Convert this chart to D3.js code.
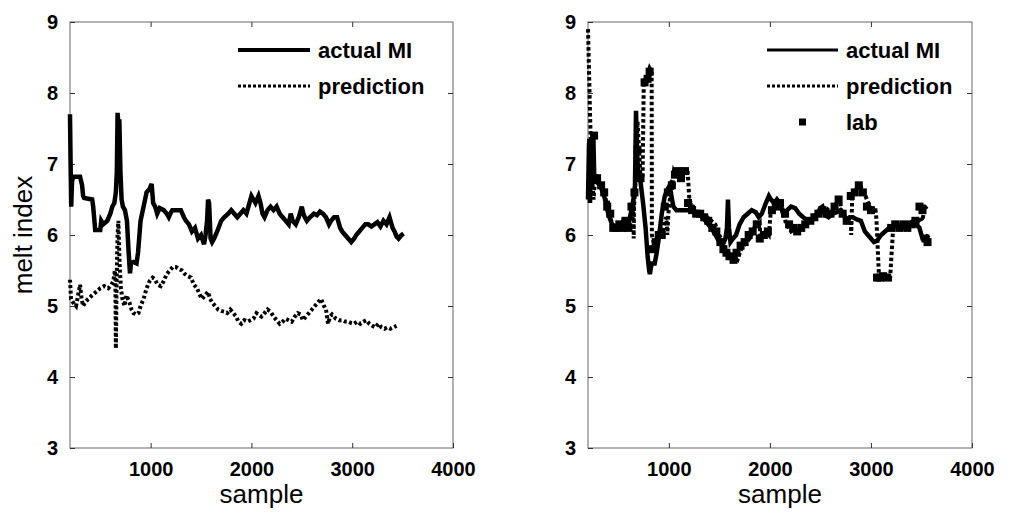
<!DOCTYPE html>
<html><head><meta charset="utf-8">
<script src="https://cdn.jsdelivr.net/npm/d3@7"></script>
<style>
body{margin:0;background:#fff;}
svg{display:block;}
.tick text{font-family:"Liberation Sans",Arial,sans-serif;font-weight:bold;font-size:20px;fill:#000;}
</style></head>
<body>
<svg id="chart" width="1013" height="521"></svg>
<script>
// ---------- data ----------
const xTicks = [1000, 2000, 3000, 4000];
const yTicks = [3, 4, 5, 6, 7, 8, 9];

// Left panel
const leftActualSample = [200,205,212,220,230,300,320,330,340,420,430,450,500,510,530,570,600,620,640,655,665,672,678,690,700,712,725,745,765,780,795,805,830,860,875,900,930,960,990,1010,1025,1045,1065,1090,1130,1160,1180,1195,1215,1250,1300,1330,1350,1380,1410,1440,1470,1500,1530,1545,1560,1570,1580,1595,1610,1630,1660,1700,1730,1770,1800,1830,1860,1890,1920,1950,1980,2000,2020,2040,2070,2090,2110,2130,2160,2190,2220,2250,2280,2310,2340,2370,2390,2410,2440,2470,2500,2515,2530,2550,2580,2620,2650,2680,2710,2740,2770,2790,2820,2850,2880,2900,2930,2960,2990,3020,3040,3070,3100,3130,3160,3190,3220,3250,3280,3310,3340,3370,3400,3420,3440,3460,3490,3510,3530,3550,3575];
const leftActualValue  = [7.7,7.1,6.4,6.75,6.82,6.82,6.7,6.55,6.52,6.5,6.4,6.07,6.07,6.2,6.15,6.2,6.3,6.4,6.45,6.6,6.9,7.72,7.6,7.6,6.9,6.5,6.4,6.35,6.2,5.8,5.46,5.6,5.62,5.6,5.75,6.2,6.4,6.6,6.65,6.72,6.45,6.4,6.3,6.38,6.35,6.3,6.25,6.3,6.35,6.35,6.35,6.25,6.2,6.15,6.05,6.1,5.95,6.0,5.87,6.0,6.2,6.5,6.45,5.95,5.9,5.95,6.05,6.2,6.25,6.3,6.35,6.3,6.25,6.3,6.35,6.3,6.45,6.55,6.5,6.45,6.55,6.45,6.3,6.25,6.35,6.4,6.35,6.4,6.3,6.25,6.2,6.15,6.3,6.2,6.15,6.25,6.4,6.3,6.25,6.2,6.25,6.3,6.28,6.33,6.3,6.25,6.15,6.2,6.25,6.25,6.1,6.05,6.0,5.95,5.9,5.95,6.0,6.05,6.1,6.15,6.15,6.12,6.15,6.18,6.12,6.2,6.15,6.25,6.1,6.05,5.98,5.95,6.0,6.02];

const leftPredSample = [200,210,230,260,280,300,315,330,350,380,420,460,500,540,580,610,630,645,650,655,662,672,680,692,705,720,740,760,790,810,830,860,880,900,930,960,990,1020,1040,1070,1100,1130,1160,1190,1220,1250,1280,1310,1340,1370,1400,1430,1460,1490,1510,1540,1570,1590,1610,1640,1670,1700,1730,1760,1790,1820,1850,1870,1900,1930,1960,1990,2020,2050,2070,2100,2130,2160,2190,2220,2250,2280,2310,2340,2370,2400,2430,2460,2490,2510,2540,2570,2600,2630,2660,2690,2720,2740,2760,2780,2800,2820,2840,2870,2900,2930,2960,2990,3020,3050,3080,3110,3140,3170,3200,3230,3260,3290,3320,3350,3380,3410,3440,3470,3500,3530,3560,3575];
const leftPredValue  = [5.37,5.1,5.05,5.0,5.15,5.3,5.1,5.0,5.05,5.1,5.15,5.2,5.25,5.28,5.25,5.3,5.35,5.5,5.4,4.4,5.3,6.0,6.2,5.6,5.25,5.1,5.0,5.15,5.05,4.95,4.9,4.88,4.9,5.0,5.1,5.25,5.35,5.4,5.38,5.3,5.28,5.35,5.45,5.5,5.55,5.55,5.52,5.5,5.45,5.42,5.4,5.3,5.25,5.15,5.1,5.15,5.2,5.1,5.05,5.0,4.95,4.93,4.92,4.9,4.95,4.9,4.85,4.78,4.75,4.8,4.78,4.8,4.82,4.9,4.88,4.85,4.9,4.95,4.92,4.85,4.8,4.75,4.78,4.82,4.8,4.78,4.85,4.9,4.88,4.8,4.85,4.9,4.95,5.0,5.05,5.1,5.0,4.95,4.75,4.85,4.88,4.85,4.82,4.8,4.8,4.78,4.78,4.76,4.75,4.78,4.75,4.78,4.8,4.75,4.72,4.7,4.75,4.7,4.68,4.7,4.68,4.7,4.72];

// Right panel
const rightActualSample = [200,210,220,232,242,252,262,272,285,320,360,400,450,500,550,600,630,650,665,675,685,695,705,720,745,770,790,805,812,830,860,880,905,930,960,990,1010,1025,1045,1075,1110,1150,1200,1250,1300,1350,1390,1430,1470,1500,1530,1560,1575,1585,1595,1610,1635,1665,1700,1740,1780,1820,1860,1890,1920,1960,1990,2010,2040,2070,2100,2130,2170,2210,2250,2290,2330,2380,2420,2460,2500,2520,2545,2580,2620,2660,2700,2730,2760,2790,2820,2860,2900,2940,2970,3000,3030,3060,3100,3140,3180,3220,3260,3300,3340,3380,3420,3450,3480,3510,3540,3570];
const rightActualValue  = [6.5,7.3,6.45,7.2,6.7,7.45,6.8,6.85,6.75,6.7,6.55,6.3,6.1,6.1,6.2,6.15,6.35,6.5,6.7,7.75,7.2,6.9,6.8,6.75,6.45,6.1,5.7,5.5,5.45,5.6,5.6,5.75,6.0,6.3,6.55,6.65,6.7,6.55,6.4,6.35,6.35,6.35,6.35,6.33,6.3,6.22,6.15,6.08,5.98,5.9,5.85,5.95,6.1,6.5,6.1,5.9,5.95,6.0,6.15,6.25,6.3,6.35,6.32,6.25,6.3,6.45,6.55,6.5,6.45,6.5,6.45,6.3,6.35,6.4,6.38,6.3,6.25,6.2,6.22,6.28,6.38,6.4,6.28,6.25,6.3,6.32,6.35,6.3,6.2,6.25,6.25,6.22,6.2,6.05,6.0,5.95,5.9,5.92,6.0,6.05,6.1,6.12,6.15,6.12,6.15,6.15,6.2,6.15,6.1,5.95,5.95,6.0];

const rightPredSample = [200,205,212,220,228,236,245,255,270,290,330,370,385,395,410,440,480,520,560,600,640,650,652,655,665,675,690,705,720,740,752,770,790,810,830,832,850,880,910,940,960,975,985,995,1010,1030,1050,1070,1100,1130,1160,1185,1205,1215,1218,1240,1270,1300,1340,1380,1420,1460,1500,1530,1560,1590,1620,1650,1680,1710,1740,1770,1800,1830,1860,1880,1900,1905,1930,1960,1990,2010,2030,2050,2070,2100,2130,2160,2190,2210,2240,2270,2300,2340,2380,2420,2460,2500,2540,2580,2620,2660,2690,2710,2740,2770,2800,2805,2815,2835,2855,2875,2900,2930,2960,2990,3020,3045,3050,3055,3080,3110,3140,3165,3168,3175,3190,3220,3250,3280,3310,3340,3370,3400,3430,3460,3470,3490,3510,3530,3533,3545,3560];
const rightPredValue  = [8.9,8.6,8.2,7.7,7.3,7.0,6.7,6.5,6.8,6.8,6.7,6.6,6.35,6.5,6.3,6.15,6.12,6.15,6.12,6.15,6.2,6.6,5.95,6.4,6.6,7.0,7.6,7.2,6.8,6.8,8.15,8.2,8.25,8.35,8.3,6.0,5.9,5.95,5.95,6.05,6.2,6.25,6.0,6.3,6.5,6.65,6.9,6.85,6.85,6.8,6.85,6.92,6.45,6.4,6.45,6.4,6.32,6.3,6.28,6.25,6.2,6.15,6.0,5.9,5.8,5.75,5.7,5.68,5.65,5.78,5.85,5.9,5.95,6.05,6.15,6.1,6.15,5.95,6.0,6.05,6.0,6.35,6.4,6.45,6.5,6.45,6.35,6.15,6.1,6.05,6.08,6.05,6.1,6.15,6.2,6.25,6.3,6.35,6.4,6.35,6.35,6.45,6.55,6.3,6.25,6.2,6.2,6.0,6.55,6.6,6.65,6.7,6.68,6.6,6.5,6.4,6.35,6.35,6.3,6.2,5.4,5.4,5.42,5.4,5.45,5.42,5.4,6.1,6.12,6.15,6.1,6.2,6.15,6.15,6.1,6.15,6.2,6.25,6.2,6.4,6.4,6.38,6.35,5.9,5.92,5.9];

const labSample = [230,260,290,330,360,390,420,450,480,510,540,570,600,630,660,690,720,760,790,810,840,870,900,930,960,990,1030,1060,1090,1120,1160,1190,1230,1270,1310,1350,1390,1430,1470,1510,1540,1570,1600,1640,1670,1710,1750,1790,1830,1870,1900,1940,1980,2020,2060,2100,2150,2190,2230,2270,2310,2350,2400,2440,2480,2520,2560,2600,2640,2680,2720,2760,2800,2840,2880,2920,2960,3000,3060,3090,3120,3160,3200,3240,3280,3320,3360,3400,3440,3480,3510,3540,3560];
const labValue  = [7.3,7.4,6.8,6.7,6.6,6.4,6.3,6.1,6.1,6.15,6.1,6.2,6.1,6.4,6.6,7.2,6.8,8.15,8.2,8.3,5.8,5.9,6.0,6.0,6.4,6.6,6.7,6.85,6.9,6.8,6.9,6.45,6.35,6.3,6.3,6.25,6.2,6.1,6.05,5.9,5.8,5.75,5.7,5.65,5.75,5.85,5.9,6.0,6.05,6.15,5.95,6.0,6.05,6.35,6.4,6.45,6.3,6.15,6.1,6.05,6.1,6.15,6.2,6.25,6.3,6.35,6.3,6.3,6.4,6.5,6.3,6.2,6.55,6.6,6.7,6.6,6.4,6.35,5.4,5.4,5.42,5.4,6.1,6.15,6.1,6.15,6.1,6.15,6.2,6.4,6.35,5.95,5.9];

const xLabel = "sample";
const yLabel = "melt index";

// ---------- drawing ----------
const svg = d3.select("#chart");
const FONT = '"Liberation Sans", Arial, sans-serif';
const yRange = [448, 22];

function zip(a, b) { return a.map((s, i) => ({s, v: b[i]})); }

function panel(x0, x1, showYLabel) {
  const x = d3.scaleLinear().domain([200, 4000]).range([x0, x1]);
  const y = d3.scaleLinear().domain([3, 9]).range(yRange);
  const g = svg.append("g");
  g.append("rect").attr("x", x0).attr("y", yRange[1]).attr("width", x1 - x0).attr("height", yRange[0] - yRange[1])
    .attr("fill", "none").attr("stroke", "#666").attr("stroke-width", 1);
  const ax = (gen, tr) => {
    const a = g.append("g").attr("transform", tr).call(gen);
    a.select(".domain").remove();
    a.selectAll(".tick line").attr("stroke", "#333");
    return a;
  };
  ax(d3.axisBottom(x).tickValues(xTicks).tickSize(-5).tickPadding(14).tickFormat(d3.format("d")), `translate(0,${yRange[0]})`);
  ax(d3.axisTop(x).tickValues(xTicks.slice(0, 3)).tickSize(-5).tickFormat(""), `translate(0,${yRange[1]})`);
  ax(d3.axisLeft(y).tickValues(yTicks).tickSize(-5).tickPadding(12).tickFormat(d3.format("d")), `translate(${x0},0)`);
  ax(d3.axisRight(y).tickValues(yTicks.slice(1, 6)).tickSize(-5).tickFormat(""), `translate(${x1},0)`);
  g.append("text").attr("x", (x0 + x1) / 2).attr("y", 503).attr("text-anchor", "middle")
    .attr("font-family", FONT).attr("font-size", 26).text(xLabel);
  if (showYLabel) {
    g.append("text").attr("transform", `translate(32,${(yRange[0] + yRange[1]) / 2}) rotate(-90)`)
      .attr("text-anchor", "middle").attr("font-family", FONT).attr("font-size", 26).text(yLabel);
  }
  return {x, y, g};
}

function drawLine(p, data, style) {
  const line = d3.line().x(d => p.x(d.s)).y(d => p.y(d.v));
  p.g.append("path").datum(data).attr("d", line).attr("fill", "none")
    .attr("stroke", "#000").attr("stroke-width", style.w)
    .attr("stroke-dasharray", style.dash || null)
    .attr("stroke-linejoin", "miter");
}

function legend(p, lx0, lx1, tx, items) {
  items.forEach((it, i) => {
    const yy = 50 + i * 36;
    if (it.type === "line") {
      p.g.append("line").attr("x1", lx0).attr("x2", lx1).attr("y1", yy).attr("y2", yy)
        .attr("stroke", "#000").attr("stroke-width", it.w).attr("stroke-dasharray", it.dash || null);
    } else {
      p.g.append("rect").attr("x", (lx0 + lx1) / 2 - 3.5).attr("y", yy - 3.5).attr("width", 7).attr("height", 7).attr("fill", "#000");
    }
    p.g.append("text").attr("x", tx).attr("y", yy + 8).attr("font-family", FONT).attr("font-weight", "bold")
      .attr("font-size", 22).text(it.label);
  });
}

// Left
const L = panel(70, 453, true);
drawLine(L, zip(leftPredSample, leftPredValue), {w: 4, dash: "3,2.5"});
drawLine(L, zip(leftActualSample, leftActualValue), {w: 4.5});
legend(L, 238, 310, 318, [
  {type: "line", w: 4, label: "actual MI"},
  {type: "line", w: 3, dash: "3,2", label: "prediction"}
]);

// Right
const R = panel(588, 972, false);
drawLine(R, zip(rightPredSample, rightPredValue), {w: 4, dash: "3.5,2.5"});
drawLine(R, zip(rightActualSample, rightActualValue), {w: 4.5});
R.g.selectAll("rect.lab").data(zip(labSample, labValue)).enter().append("rect").attr("class", "lab")
  .attr("x", d => R.x(d.s) - 4).attr("y", d => R.y(d.v) - 4).attr("width", 8).attr("height", 8).attr("fill", "#000");
legend(R, 767, 838, 846, [
  {type: "line", w: 3, label: "actual MI"},
  {type: "line", w: 3, dash: "3,2", label: "prediction"},
  {type: "marker", label: "lab"}
]);
</script>
</body></html>
